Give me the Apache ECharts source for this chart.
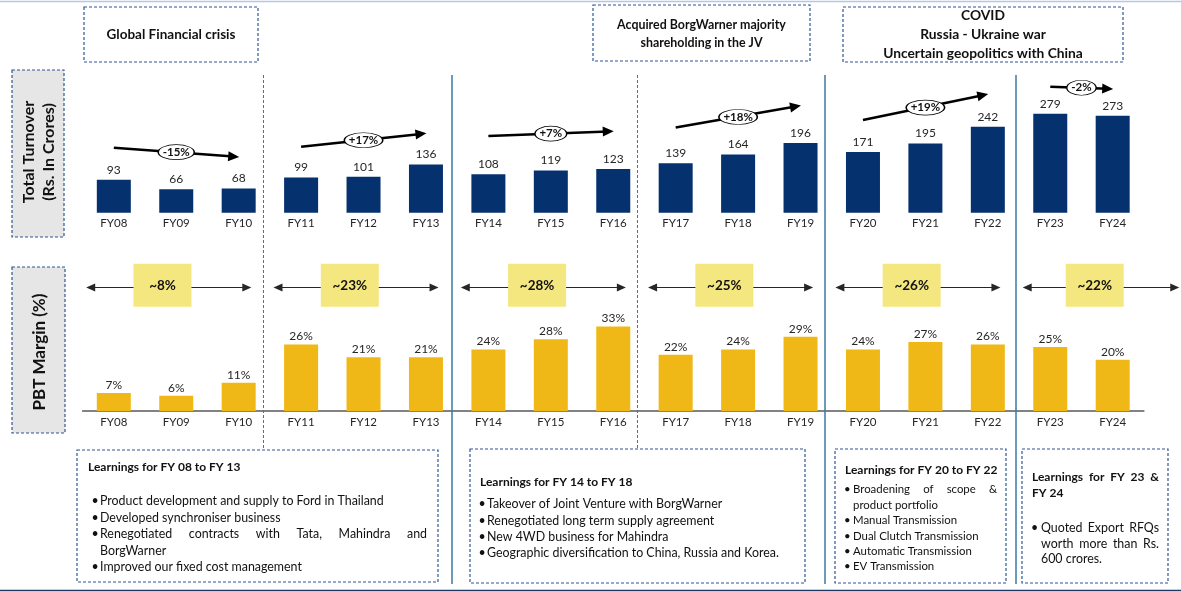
<!DOCTYPE html>
<html><head><meta charset="utf-8">
<script src="https://cdn.jsdelivr.net/npm/echarts@6/dist/echarts.min.js"></script>
<style>html,body{margin:0;padding:0;background:#fff}#c{width:1181px;height:592px}</style>
</head><body><div id="c"></div>
<script>
// ---------------- DATA ----------------
const categories = ['FY08','FY09','FY10','FY11','FY12','FY13','FY14','FY15','FY16','FY17','FY18','FY19','FY20','FY21','FY22','FY23','FY24'];
const turnover = [93,66,68,99,101,136,108,119,123,139,164,196,171,195,242,279,273];
const pbtMargin = [7,6,11,26,21,21,24,28,33,22,24,29,24,27,26,25,20];
const periodStart = [0,3,6,9,12,15];
const periodEnd = [2,5,8,11,14,16];
const turnoverGrowth = ['-15%','+17%','+7%','+18%','+19%','-2%'];
const avgMargin = ['~8%','~23%','~28%','~25%','~26%','~22%'];
const eventTexts = [
  ['Global Financial crisis'],
  ['Acquired BorgWarner majority','shareholding in the JV'],
  ['COVID','Russia - Ukraine war','Uncertain geopolitics with China']
];
const learningTitles = ['Learnings for FY 08 to FY 13','Learnings for FY 14 to FY 18','Learnings for FY 20 to FY 22','Learnings for FY 23 & FY 24'];
const learningPoints = [
  ['Product development and supply to Ford in Thailand','Developed synchroniser business','Renegotiated contracts with Tata, Mahindra and BorgWarner','Improved our fixed cost management'],
  ['Takeover of Joint Venture with BorgWarner','Renegotiated long term supply agreement','New 4WD business for Mahindra','Geographic diversification to China, Russia and Korea.'],
  ['Broadening of scope & product portfolio','Manual Transmission','Dual Clutch Transmission','Automatic Transmission','EV Transmission'],
  ['Quoted Export RFQs worth more than Rs. 600 crores.']
];
// annotation heights for trend arrows (in turnover units)
const trendStartVal = [183,186,216,240,261,355];
const trendEndVal = [158,222,229,299,331,349];

// ---------------- LAYOUT ----------------
const FF = 'Lato';
const NAVY = '#06316f', GOLD = '#f0b817', PALE = '#f5e77f', BOXLINE = '#2f5597', DIV = '#3a7aa6', TXT = '#262626';
const GL = 82.6, GR = 37.1, W = 1181;
const SLOT = (W - GL - GR) / categories.length;
const ctx = document.createElement('canvas').getContext('2d');
function measure(t, font){ ctx.font = font; return ctx.measureText(t).width; }
function txt(x, y, t, font, align, extra){
  return Object.assign({type:'text', x:x, y:y, silent:true, z:10,
    style:{text:t, font:font, fill:'#111', textAlign:align||'left', textVerticalAlign:'middle'}}, extra||{});
}
function justified(t, x0, x1, y, font){
  const words = t.split(' ');
  const ws = words.map(w => measure(w, font));
  const gap = (x1 - x0 - ws.reduce((a,b)=>a+b,0)) / (words.length - 1);
  let x = x0; const out = [];
  words.forEach((w,i) => { out.push(txt(x, y, w, font, 'left')); x += ws[i] + gap; });
  return out;
}
function box(x, y, w, h, fill){
  return {type:'rect', silent:true, z:1, shape:{x:x, y:y, width:w, height:h},
    style:{fill:fill||'none', stroke:BOXLINE, lineWidth:1.2, lineDash:[3,2]}};
}
function splitWords(s, from, to){ return s.split(' ').slice(from, to).join(' '); }

const g = [];
// top & bottom rule
g.push({type:'line', silent:true, shape:{x1:0,y1:1.5,x2:W,y2:1.5}, style:{stroke:'#b4c7e7', lineWidth:1.5}});
g.push({type:'line', silent:true, shape:{x1:0,y1:590.5,x2:W,y2:590.5}, style:{stroke:'#1f3864', lineWidth:1.5}});
// event boxes
g.push(box(84,7,174,55)); g.push(txt(171,35,eventTexts[0][0],'bold 13.5px '+FF,'center'));
const BA = 'bold 12.4px ' + FF;
g.push(box(593,5,217,56)); g.push(txt(701.5,25,eventTexts[1][0],BA,'center')); g.push(txt(701.5,42.5,eventTexts[1][1],BA,'center'));
const BC = 'bold 13.8px ' + FF;
g.push(box(843,7,280,55)); [16,35,54].forEach((y,i)=>g.push(txt(983,y,eventTexts[2][i],BC,'center')));
// left axis-name boxes
g.push(box(12,70,52,167,'#e7e6e6'));
g.push(txt(28.5,152,'Total Turnover','bold 16px '+FF,'center',{rotation:Math.PI/2}));
g.push(txt(48.5,152,'(Rs. In Crores)','bold 16px '+FF,'center',{rotation:Math.PI/2}));
g.push(box(12,267,53,166,'#e7e6e6'));
g.push(txt(40,352,'PBT Margin (%)','bold 17px '+FF,'center',{rotation:Math.PI/2}));

// learning boxes
const F1 = '12.4px ' + FF, F3 = '11.4px ' + FF, TB = 'bold 12px ' + FF;
function bullet(x, y, font){ return txt(x, y, '\u2022', font, 'left'); }
// box 1
g.push(box(77,450,361,132));
g.push(txt(88,466.7,learningTitles[0],TB));
[[501,learningPoints[0][0]],[517.5,learningPoints[0][1]]].forEach(([y,t])=>{ g.push(bullet(91.5,y,F1)); g.push(txt(100,y,t,F1)); });
g.push(bullet(91.5,534,F1)); justified(splitWords(learningPoints[0][2],0,6),100,427,534,F1).forEach(e=>g.push(e));
g.push(txt(100,550.5,splitWords(learningPoints[0][2],6),F1));
g.push(bullet(91.5,567,F1)); g.push(txt(100,567,learningPoints[0][3],F1));
// box 2
g.push(box(470,449,335,134));
g.push(txt(480,481.7,learningTitles[1],TB));
[504.3,521,537,553.3].forEach((y,i)=>{ g.push(bullet(478.5,y,F1)); g.push(txt(487,y,learningPoints[1][i],F1)); });
// box 3
g.push(box(835,449,171,134));
g.push(txt(845,470,learningTitles[2],TB));
g.push(bullet(844,489.3,F3)); justified(splitWords(learningPoints[2][0],0,4),853,997,489.3,F3).forEach(e=>g.push(e));
g.push(txt(853,505,splitWords(learningPoints[2][0],4),F3));
[520,536,551,566.7].forEach((y,i)=>{ g.push(bullet(844,y,F3)); g.push(txt(853,y,learningPoints[2][i+1],F3)); });
// box 4
g.push(box(1022,449,146,134));
justified(splitWords(learningTitles[3],0,5),1032,1159,476.7,TB).forEach(e=>g.push(e));
g.push(txt(1032,493.3,splitWords(learningTitles[3],5),TB));
g.push(bullet(1031,528.3,F1));
justified(splitWords(learningPoints[3][0],0,3),1041,1159,528.3,F1).forEach(e=>g.push(e));
justified(splitWords(learningPoints[3][0],3,7),1041,1159,544,F1).forEach(e=>g.push(e));
g.push(txt(1041,559.3,splitWords(learningPoints[3][0],7),F1));

// ---------------- ANNOTATION SERIES DATA ----------------
const trendLines = periodStart.map((s,i)=>[{coord:[s, trendStartVal[i]]},{coord:[periodEnd[i]-0.08, trendEndVal[i]]}]);
const trendBadges = periodStart.map((s,i)=>({
  value:[(s+periodEnd[i])/2, (trendStartVal[i]+trendEndVal[i])/2],
  symbolSize:[measure(turnoverGrowth[i],'bold 11.5px '+FF)+9, 15],
  name:turnoverGrowth[i]
}));
const ARROW_Y = 48.2, BOX_Y = 49.1;
const annMax = -0.5 + (W - GL) / SLOT;   // value extent of the full-width annotation grid
const spanStart = periodStart.map(s=>s-0.43+0.06);
const spanEnd = periodEnd.map((e,i)=> i===periodEnd.length-1 ? annMax-0.1 : e+0.19-0.06);
const marginLines = spanStart.map((s,i)=>[{coord:[s, ARROW_Y]},{coord:[spanEnd[i], ARROW_Y]}]);
const marginBoxes = spanStart.map((s,i)=>({value:[(s+spanEnd[i])/2-0.1, BOX_Y], name:avgMargin[i]}));
const solidDiv = [5.42, 11.38, 14.45], dashedDiv = [2.4, 8.39];
const divLines = solidDiv.map(x=>[{coord:[x,1], lineStyle:{type:'solid', width:1.5, color:DIV}},{coord:[x,0]}])
  .concat(dashedDiv.map(x=>[{coord:[x,1], lineStyle:{type:[3,2], width:1, color:DIV}},{coord:[x,0.267]}]));

const axisLbl = {margin:5, fontSize:11.5, color:TXT, fontFamily:FF};
const option = {
  animation:false,
  backgroundColor:'#fff',
  textStyle:{fontFamily:FF},
  grid:[
    {left:GL, right:GR, top:70.7, height:142},
    {left:GL, right:GR, top:257.4, height:153.6},
    {left:GL, right:GR, top:75, height:509},
    {left:GL, right:0, top:257.4, height:153.6}
  ],
  xAxis:[
    {type:'category', gridIndex:0, data:categories, axisLine:{show:false}, axisTick:{show:false}, axisLabel:axisLbl},
    {type:'category', gridIndex:1, data:categories, axisLine:{lineStyle:{color:'#595959', width:1.5}}, axisTick:{show:false}, axisLabel:axisLbl},
    {type:'value', gridIndex:0, min:-0.5, max:16.5, show:false},
    {type:'value', gridIndex:3, min:-0.5, max:annMax, show:false},
    {type:'value', gridIndex:2, min:-0.5, max:16.5, show:false}
  ],
  yAxis:[
    {type:'value', gridIndex:0, min:0, max:400, show:false},
    {type:'value', gridIndex:1, min:0, max:60, show:false},
    {type:'value', gridIndex:2, min:0, max:1, show:false},
    {type:'value', gridIndex:3, min:0, max:60, show:false}
  ],
  series:[
    {type:'bar', xAxisIndex:0, yAxisIndex:0, data:turnover, barWidth:34, itemStyle:{color:NAVY},
      label:{show:true, position:'top', distance:4, fontSize:12, color:TXT, fontFamily:FF}},
    {type:'bar', xAxisIndex:1, yAxisIndex:1, data:pbtMargin, barWidth:34, itemStyle:{color:GOLD},
      label:{show:true, position:'top', distance:2, fontSize:12, color:TXT, fontFamily:FF, formatter:'{c}%'}},
    {type:'scatter', xAxisIndex:2, yAxisIndex:0, data:[[0,0]], symbolSize:0, clip:false, silent:true,
      markLine:{silent:true, symbol:['none','triangle'], symbolSize:[10,11], label:{show:false},
        lineStyle:{color:'#000', width:2.5, type:'solid'}, data:trendLines}},
    {type:'scatter', xAxisIndex:2, yAxisIndex:0, data:trendBadges, symbol:'circle', clip:false, silent:true, z:5,
      itemStyle:{color:'#fff', borderColor:'#000', borderWidth:1, opacity:1},
      label:{show:true, position:'inside', formatter:p=>p.name, fontSize:11.5, fontWeight:'bold', color:'#111', fontFamily:FF}},
    {type:'scatter', xAxisIndex:3, yAxisIndex:3, data:[[0,0]], symbolSize:0, clip:false, silent:true,
      markLine:{silent:true, symbol:['triangle','triangle'], symbolSize:[8,9], label:{show:false},
        lineStyle:{color:'#262626', width:1, type:'solid'}, data:marginLines}},
    {type:'scatter', xAxisIndex:3, yAxisIndex:3, data:marginBoxes, symbol:'rect', symbolSize:[58,43], clip:false, silent:true, z:5,
      itemStyle:{color:PALE, opacity:1},
      label:{show:true, position:'inside', formatter:p=>p.name, fontSize:13.5, fontWeight:'bold', color:'#111', fontFamily:FF}},
    {type:'scatter', xAxisIndex:4, yAxisIndex:2, data:[[0,0]], symbolSize:0, clip:false, silent:true,
      markLine:{silent:true, symbol:['none','none'], label:{show:false}, data:divLines}}
  ],
  graphic:{elements:g}
};
const chart = echarts.init(document.getElementById('c'));
chart.setOption(option);
</script></body></html>
